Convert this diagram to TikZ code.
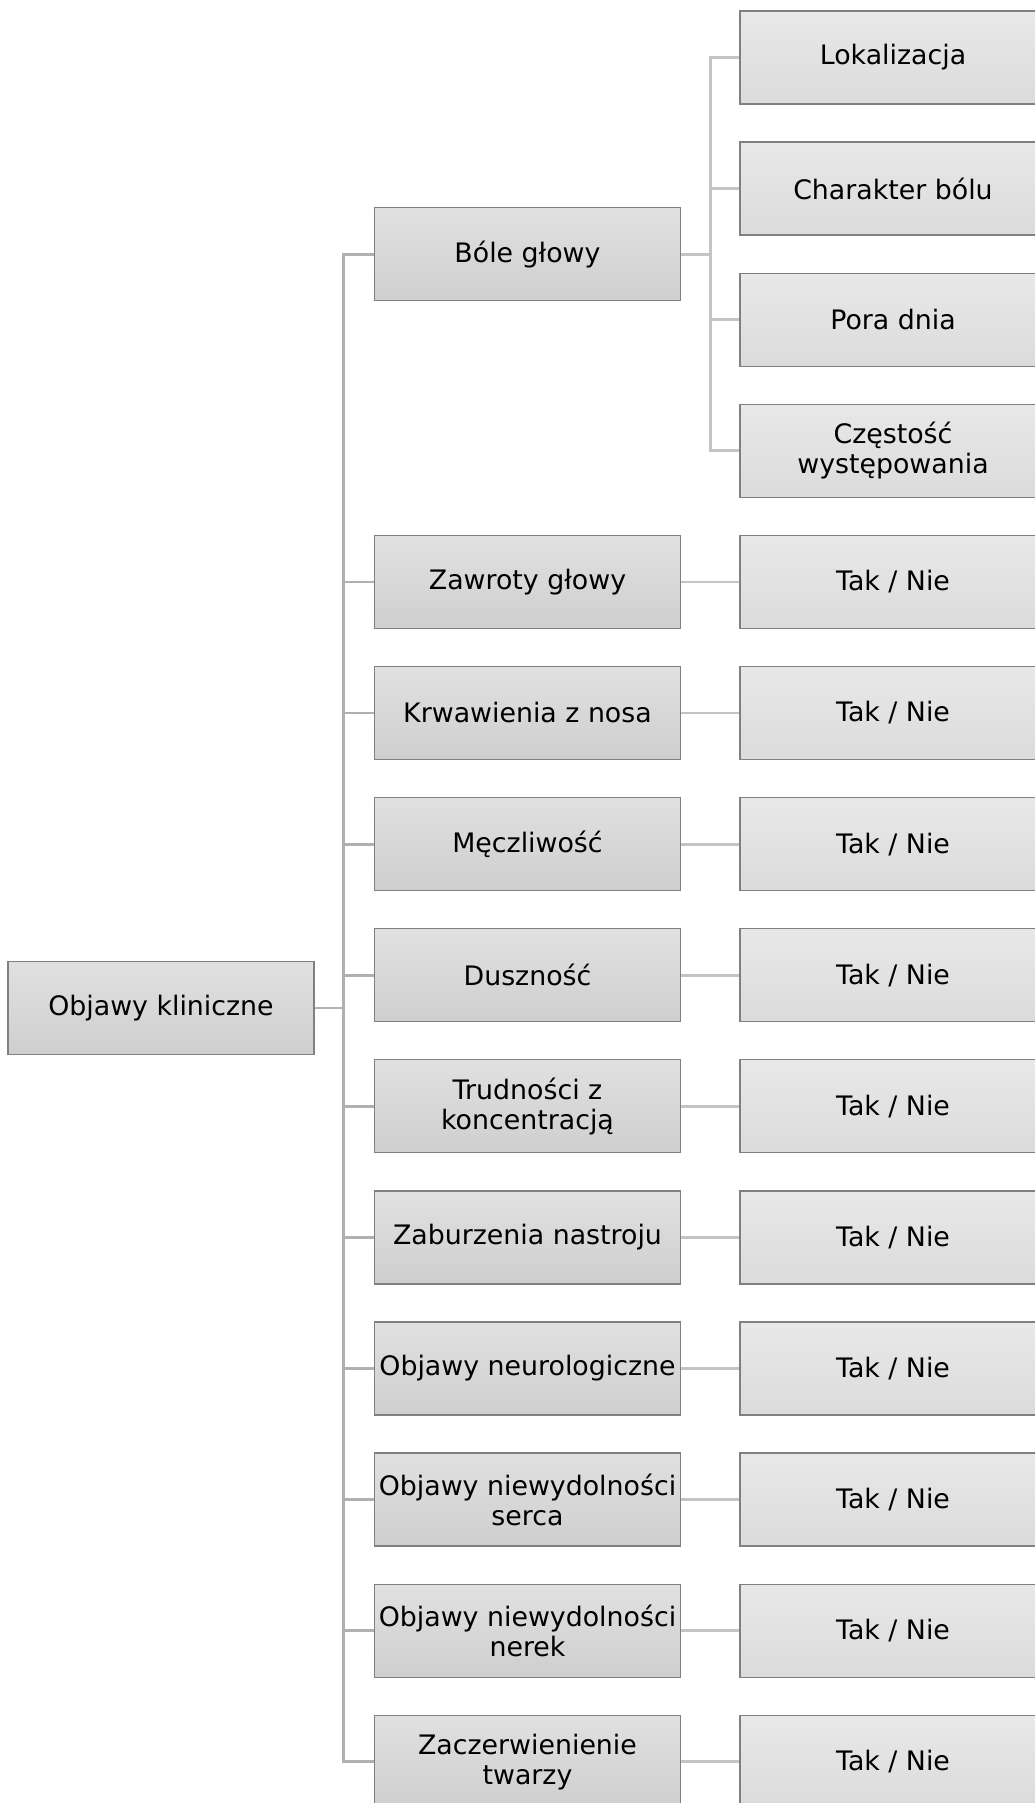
\documentclass[tikz,border=0pt]{standalone}
\usepackage{fontspec}
\setmainfont{DejaVu Sans}
\begin{document}
\begin{tikzpicture}[x=1pt,y=-1pt,
  box/.style={draw=black!50, line width=1.3pt, minimum width=306pt, minimum height=93pt,
    inner sep=2pt, align=center, font=\fontsize{26.8}{30}\selectfont,
    top color=black!12, bottom color=black!19},
  leaf/.style={box, top color=black!9, bottom color=black!14},
  conA/.style={draw=black!31, line width=2.8pt},
  conB/.style={draw=black!23, line width=2.8pt}]
\useasboundingbox (0,0) rectangle (1035,1803);
\clip (0,0) rectangle (1035,1803);
\def\rowy#1{57.5+131.1*#1}
% root
\node[box] (root) at (161,1008) {Objawy kliniczne};
% level 2
\node[box] (b1) at (527.5,254.15) {Bóle głowy};
\node[box] (b2) at (527.5,{\rowy{4}}) {Zawroty głowy};
\node[box] (b3) at (527.5,{\rowy{5}}) {Krwawienia z nosa};
\node[box] (b4) at (527.5,{\rowy{6}}) {Męczliwość};
\node[box] (b5) at (527.5,{\rowy{7}}) {Duszność};
\node[box] (b6) at (527.5,{\rowy{8}}) {Trudności z\\koncentracją};
\node[box] (b7) at (527.5,{\rowy{9}}) {Zaburzenia nastroju};
\node[box] (b8) at (527.5,{\rowy{10}}) {Objawy neurologiczne};
\node[box] (b9) at (527.5,{\rowy{11}}) {Objawy niewydolności\\serca};
\node[box] (b10) at (527.5,{\rowy{12}}) {Objawy niewydolności\\nerek};
\node[box] (b11) at (527.5,{\rowy{13}}) {Zaczerwienienie\\twarzy};
% level 3 under Bole glowy
\node[leaf] (c1) at (893,{\rowy{0}}) {Lokalizacja};
\node[leaf] (c2) at (893,{\rowy{1}}) {Charakter bólu};
\node[leaf] (c3) at (893,{\rowy{2}}) {Pora dnia};
\node[leaf] (c4) at (893,{\rowy{3}}) {Częstość\\występowania};
% Tak / Nie leaves
\foreach \i in {2,...,11}{
  \pgfmathsetmacro\yy{57.5+131.1*(\i+2)}
  \node[leaf] (t\i) at (893,\yy) {Tak / Nie};
}
% connectors root -> level 2
\foreach \i in {1,...,11}{
  \draw[conA] (root.east) -- ++(29,0) |- (b\i.west);
}
% connectors Bole -> level 3
\foreach \i in {1,...,4}{
  \draw[conB] (b1.east) -- ++(29.5,0) |- (c\i.west);
}
% connectors level 2 -> Tak / Nie
\foreach \i in {2,...,11}{
  \draw[conB] (b\i.east) -- (t\i.west);
}
\end{tikzpicture}
\end{document}
